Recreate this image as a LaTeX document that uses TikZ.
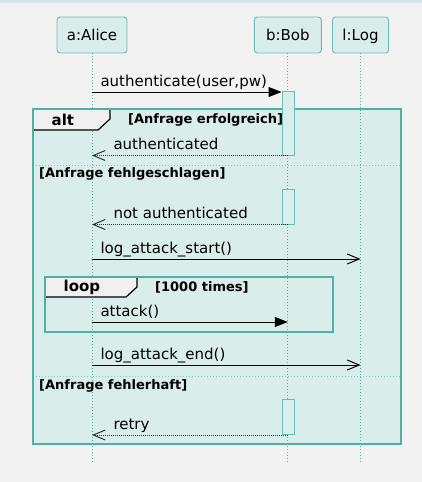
\documentclass[tikz,border=0pt]{standalone}
\usepackage{fontspec}
\setmainfont{DejaVu Sans}
\usetikzlibrary{arrows.meta,positioning}

\definecolor{bgGray}{RGB}{242,242,242}
\definecolor{stripTeal}{RGB}{214,229,227}
\definecolor{frameTeal}{RGB}{77,178,163}
\definecolor{boxTeal}{RGB}{105,190,178}
\definecolor{fillTeal}{RGB}{217,238,234}
\definecolor{tabGray}{RGB}{240,240,240}

\begin{document}
\begin{tikzpicture}[x=1pt, y=-1pt,
    participant/.style={rectangle, draw=boxTeal, fill=fillTeal, rounded corners=3pt,
        minimum height=36pt, text height=11.5pt, text depth=0pt, inner sep=0pt,
        line width=0.9pt, font=\fontsize{15}{18}\selectfont},
    lifeline/.style={draw=frameTeal, line width=0.8pt, dash pattern=on 1pt off 2pt},
    activation/.style={rectangle, draw=boxTeal, fill=fillTeal, line width=1pt,
        minimum width=12pt, inner sep=0pt},
    frame/.style={draw=frameTeal, line width=2pt},
    divider/.style={draw=frameTeal!70, line width=0.8pt, dash pattern=on 1pt off 2pt},
    tab/.style={draw=black, line width=1.2pt},
    call/.style={-{Triangle[length=13pt, width=10pt]}, line width=1pt},
    signal/.style={-{Straight Barb[length=12pt, width=10pt]}, line width=1pt},
    reply/.style={-{Straight Barb[length=12pt, width=10pt]}, line width=1pt,
        draw=black!80, dash pattern=on 1pt off 1pt},
    msg/.style={anchor=base west, inner sep=0pt, font=\fontsize{15}{18}\selectfont},
    guard/.style={anchor=base west, inner sep=0pt, font=\fontsize{13}{16}\selectfont\bfseries},
    kind/.style={anchor=base west, inner sep=0pt, font=\fontsize{15}{18}\selectfont\bfseries}
]
    \useasboundingbox (0,0) rectangle (422,482);
    \fill[bgGray] (0,0) rectangle (422,482);
    \fill[stripTeal] (0,0) rectangle (422,3);

    \node[participant, minimum width=70pt] (alice) at (92,35) {a:Alice};
    \node[participant, minimum width=67pt] (bob) at (287.8,35) {b:Bob};
    \node[participant, minimum width=56pt] (log) at (360.5,35) {l:Log};

    \fill[fillTeal] (33,109) rectangle (401,444);

    \coordinate (alice-end) at (alice |- 0,464);
    \coordinate (bob-end) at (bob |- 0,464);
    \coordinate (log-end) at (log |- 0,464);
    \draw[lifeline] (alice) -- (alice-end);
    \draw[lifeline] (bob) -- (bob-end);
    \draw[lifeline] (log) -- (log-end);

    \draw[divider] (33,165.5) -- (401,165.5);
    \draw[divider] (33,376) -- (401,376);

    \fill[tabGray] (33,109) -- (110,109) -- (110,119) -- (98,130) -- (33,130) -- cycle;
    \draw[tab] (110,109) -- (110,119) -- (98,130) -- (33,130);
    \fill[tabGray] (45,277) -- (137,277) -- (137,287) -- (126,297) -- (45,297) -- cycle;
    \draw[tab] (137,277) -- (137,287) -- (126,297) -- (45,297);

    \draw[frame] (33,109) rectangle (401,444);
    \draw[frame] (45,277) rectangle (333,332);

    \node[activation, minimum height=64pt] (act1) at (288,123) {};
    \node[activation, minimum height=35pt] (act2) at (288,206.5) {};
    \node[activation, minimum height=35pt] (act3) at (288,417) {};

    \draw[call] (alice |- 0,92) -- node[msg, pos=0, xshift=8pt, yshift=6pt] {authenticate(user,pw)} (act1.west |- 0,92);
    \draw[reply] (act1.south) -- node[msg, pos=1, xshift=21pt, yshift=6pt] {authenticated} (alice |- act1.south);
    \draw[reply] (act2.south) -- node[msg, pos=1, xshift=21pt, yshift=6pt] {not authenticated} (alice |- act2.south);
    \draw[signal] (alice |- 0,259) -- node[msg, pos=0, xshift=8pt, yshift=6pt] {log\_attack\_start()} (log |- 0,259);
    \draw[call] (alice |- 0,322) -- node[msg, pos=0, xshift=8pt, yshift=6pt] {attack()} (bob |- 0,322);
    \draw[signal] (alice |- 0,365) -- node[msg, pos=0, xshift=8pt, yshift=6pt] {log\_attack\_end()} (log |- 0,365);
    \draw[reply] (act3.south) -- node[msg, pos=1, xshift=21pt, yshift=5.5pt] {retry} (alice |- act3.south);

    \node[kind] (alt-kind) at (51.5,125.5) {alt};
    \node[guard] (guard-ok) at (128,123) {[Anfrage erfolgreich]};
    \node[guard] (guard-fail) at (39,177.5) {[Anfrage fehlgeschlagen]};
    \node[kind] (loop-kind) at (63.5,291) {loop};
    \node[guard] (guard-loop) at (155,291.5) {[1000 times]};
    \node[guard] (guard-err) at (39,389) {[Anfrage fehlerhaft]};
\end{tikzpicture}
\end{document}
